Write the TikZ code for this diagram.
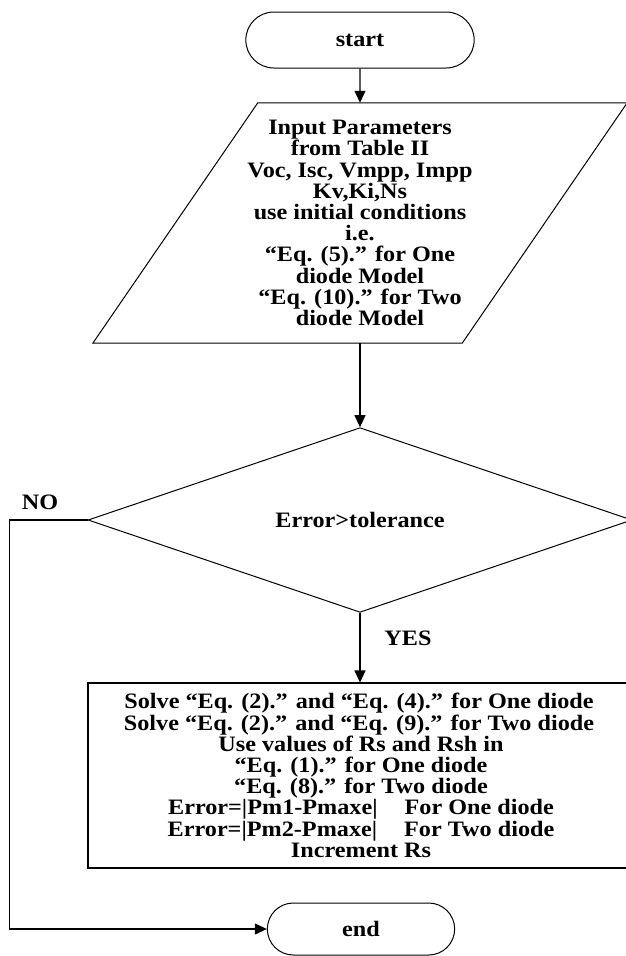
\documentclass[tikz,border=0pt]{standalone}
\usepackage{fontspec}
\setmainfont{Liberation Serif}[FakeStretch=1.1]
\usetikzlibrary{arrows.meta,shapes.geometric,shapes.misc}
\begin{document}
\begin{tikzpicture}[
  x=1pt, y=-1pt,
  every node/.style={font=\bfseries\fontsize{22}{21.2}\selectfont},
  term/.style={
    draw,
    line width=1pt,
    rounded rectangle,
    minimum width=235pt,
    minimum height=56pt
  },
  iobox/.style={
    align=center,
    minimum width=369pt,
    minimum height=240pt,
    inner sep=0pt
  },
  decision/.style={
    draw,
    line width=1pt,
    diamond,
    minimum width=544pt,
    minimum height=140pt,
    inner sep=0pt
  },
  process/.style={
    draw,
    line width=1.1pt,
    align=center,
    minimum width=546pt,
    minimum height=185pt,
    inner sep=0pt
  },
  arrow/.style={-{Triangle[length=12pt,width=11pt]}, line width=1.1pt}
]
\useasboundingbox (0,0) rectangle (626,956);

\node[term] (start) at (360,40) {start};
\node[iobox] (input) at (360,223) {Input Parameters\\from Table II\\Voc, Isc, Vmpp, Impp\\Kv,Ki,Ns\\use initial conditions\\i.e.\\“Eq. (5).” for One\\diode Model\\“Eq. (10).” for Two\\diode Model};
\draw[line width=1pt] ([xshift=82.5pt]input.north west) -- ([xshift=82.5pt]input.north east)
  -- ([xshift=-82.5pt]input.south east) -- ([xshift=-82.5pt]input.south west) -- cycle;
\node[decision] (cond) at (360,520) {Error>tolerance};
\node[process] (solve) at (361,775.5) {\hspace*{-4pt}Solve “Eq. (2).” and “Eq. (4).” for One diode\\\hspace*{-4pt}Solve “Eq. (2).” and “Eq. (9).” for Two diode\\Use values of Rs and Rsh in\\“Eq. (1).” for One diode\\“Eq. (8).” for Two diode\\Error=|Pm1-Pmaxe|\hspace{27pt}For One diode\\Error=|Pm2-Pmaxe|\hspace{27pt}For Two diode\\Increment Rs};
\node[term, minimum width=194pt, minimum height=52pt] (end) at (361,929) {end};
\node (yes) at (408,638) {YES};
\node (no) at (40,502) {NO};

\draw[arrow] (start) -- (input);
\draw[arrow] (input) -- (cond);
\draw[arrow] (cond.south) -- (cond.south |- solve.north);
\draw[arrow] (cond.west) -- ++(-78pt,0) |- (end.west);
\end{tikzpicture}
\end{document}
